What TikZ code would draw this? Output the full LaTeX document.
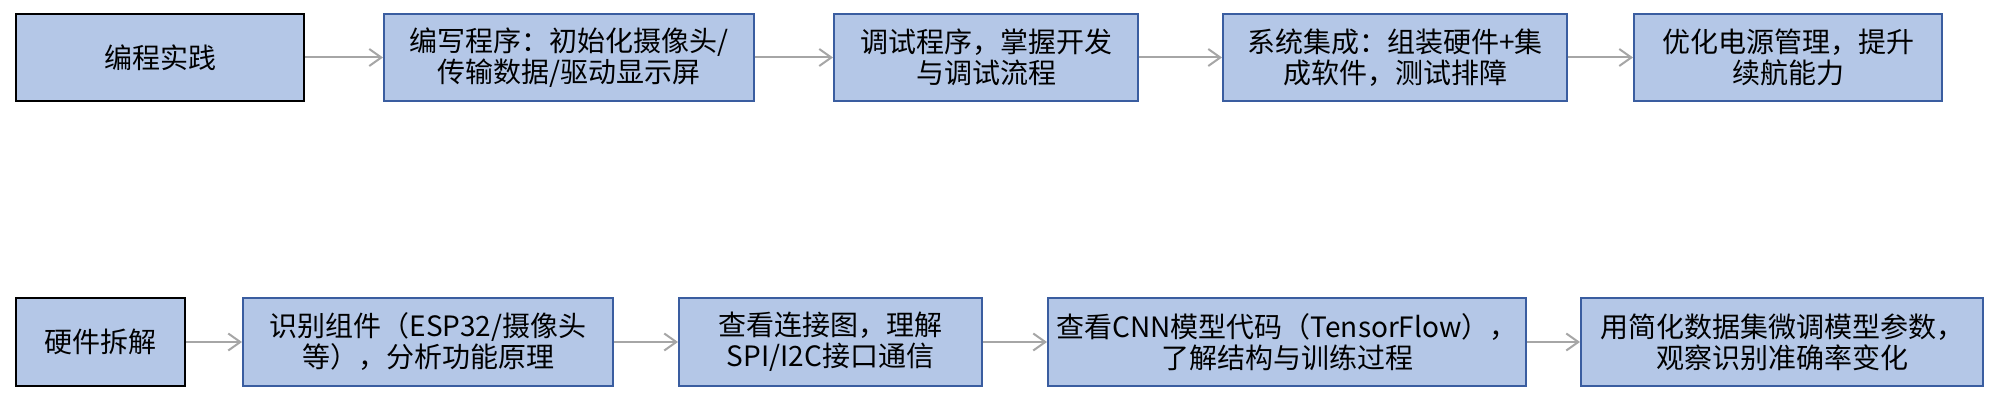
\documentclass[tikz,border=0pt]{standalone}
\usepackage{fontspec}
\newfontfamily\cjk{Noto Sans CJK SC}
\usetikzlibrary{arrows.meta}
\definecolor{boxfill}{HTML}{B4C7E7}
\definecolor{boxline}{HTML}{3A5DA0}
\definecolor{arrowgray}{HTML}{A6A6A6}
\begin{document}
\begin{tikzpicture}[x=1pt,y=-1pt,
  stepbox/.style={draw=boxline, line width=2pt, fill=boxfill, inner sep=0pt,
    align=center, text=black, font=\cjk\fontsize{28}{31}\selectfont},
  firstbox/.style={stepbox, draw=black, line width=2.5pt},
  flow/.style={draw=arrowgray, line width=2pt, -{Straight Barb[length=12pt,width=17pt]}}]
\useasboundingbox (0,0) rectangle (2000,401);
% top row
\node[firstbox, minimum width=288pt, minimum height=87pt] (a1) at (160,57.5) {编程实践};
\node[stepbox, minimum width=370pt, minimum height=87pt] (a2) at (569,57.5) {编写程序：初始化摄像头/\\传输数据/驱动显示屏};
\node[stepbox, minimum width=304pt, minimum height=87pt] (a3) at (986,57.5) {调试程序，掌握开发\\与调试流程};
\node[stepbox, minimum width=344pt, minimum height=87pt] (a4) at (1395,57.5) {系统集成：组装硬件+集\\成软件，测试排障};
\node[stepbox, minimum width=308pt, minimum height=87pt] (a5) at (1788,57.5) {优化电源管理，提升\\续航能力};
% bottom row
\node[firstbox, minimum width=169pt, minimum height=88pt] (b1) at (100.5,342) {硬件拆解};
\node[stepbox, minimum width=370pt, minimum height=88pt] (b2) at (428,342) {识别组件（ESP32/摄像头\\等），分析功能原理};
\node[stepbox, minimum width=303pt, minimum height=88pt] (b3) at (830.5,342) {查看连接图，理解\\SPI/I2C接口通信};
\node[stepbox, minimum width=478pt, minimum height=88pt] (b4) at (1287,342) {查看CNN模型代码（TensorFlow），\\了解结构与训练过程};
\node[stepbox, minimum width=402pt, minimum height=88pt] (b5) at (1782,342) {用简化数据集微调模型参数，\\观察识别准确率变化};
% connectors
\draw[flow] (a1) -- (a2);
\draw[flow] (a2) -- (a3);
\draw[flow] (a3) -- (a4);
\draw[flow] (a4) -- (a5);
\draw[flow] (b1) -- (b2);
\draw[flow] (b2) -- (b3);
\draw[flow] (b3) -- (b4);
\draw[flow] (b4) -- (b5);
\end{tikzpicture}
\end{document}
